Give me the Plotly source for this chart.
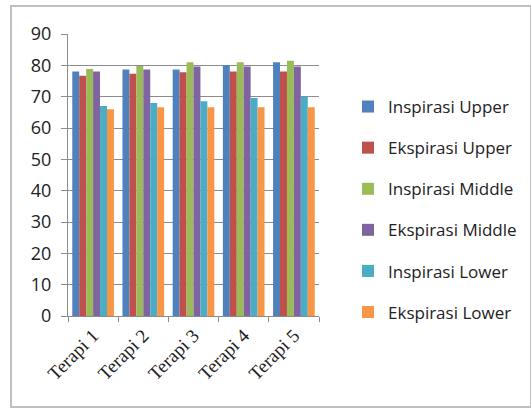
import plotly.graph_objects as go

categories = ["Terapi 1", "Terapi 2", "Terapi 3", "Terapi 4", "Terapi 5"]
series_names = ["Inspirasi Upper", "Ekspirasi Upper", "Inspirasi Middle",
                "Ekspirasi Middle", "Inspirasi Lower", "Ekspirasi Lower"]
inspirasi_upper = [78, 78.7, 78.7, 80, 81]
ekspirasi_upper = [76.7, 77.3, 77.8, 78, 78]
inspirasi_middle = [78.8, 79.8, 81, 81, 81.5]
ekspirasi_middle = [78, 78.7, 79.6, 79.6, 79.6]
inspirasi_lower = [67, 68, 68.5, 69.6, 70]
ekspirasi_lower = [66, 66.6, 66.6, 66.6, 66.6]
series_values = [inspirasi_upper, ekspirasi_upper, inspirasi_middle,
                 ekspirasi_middle, inspirasi_lower, ekspirasi_lower]
colors = ["#4F81BD", "#C0504D", "#9BBB59", "#8064A2", "#4BACC6", "#F79646"]
y_ticks = list(range(0, 91, 10))

fig = go.Figure()
for name, vals, col in zip(series_names, series_values, colors):
    fig.add_trace(go.Bar(x=categories, y=vals, name=name, marker_color=col,
                         marker_line_width=0, legendgroup=name))

W, H = 531, 409
L, R, T, B = 68, 531 - 319, 34, 409 - 316
pw, ph = W - L - R, H - T - B

def px_x(p):
    return (p - L) / pw

def px_y(p):
    return (H - B - p) / ph

fig.update_layout(
    width=W, height=H,
    margin=dict(l=L, r=R, t=T, b=B, autoexpand=False),
    paper_bgcolor="white", plot_bgcolor="white",
    barmode="group", bargap=0.17, bargroupgap=0,
    font=dict(family="Open Sans", color="#222222"),
    showlegend=True,
    legend=dict(x=px_x(348), y=px_y(89), xanchor="left", yanchor="top",
                font=dict(family="Open Sans", size=17, color="#222222"),
                tracegroupgap=16, traceorder="grouped", itemwidth=30,
                bgcolor="rgba(0,0,0,0)"),
    xaxis=dict(showline=True, linecolor="#8c8c8c", linewidth=1,
               ticks="outside", tickson="boundaries", ticklen=5,
               tickcolor="#8c8c8c", tickangle=-45,
               tickfont=dict(family="Liberation Serif", size=19, color="#222222"),
               showgrid=False, mirror=False),
    yaxis=dict(range=[0, 90], tickvals=y_ticks, showline=True,
               linecolor="#8c8c8c", linewidth=1, ticks="outside", ticklen=6,
               tickcolor="#8c8c8c", showgrid=True, gridcolor="#8c8c8c",
               gridwidth=1, zeroline=False,
               tickfont=dict(family="Open Sans", size=18, color="#222222"),
               ticklabelstandoff=6),
    shapes=[dict(type="rect", xref="paper", yref="paper",
                 x0=px_x(11), x1=px_x(531), y0=px_y(407), y1=px_y(6),
                 line=dict(color="#bfbfbf", width=2), layer="below")],
)

fig.write_html("out.html")
